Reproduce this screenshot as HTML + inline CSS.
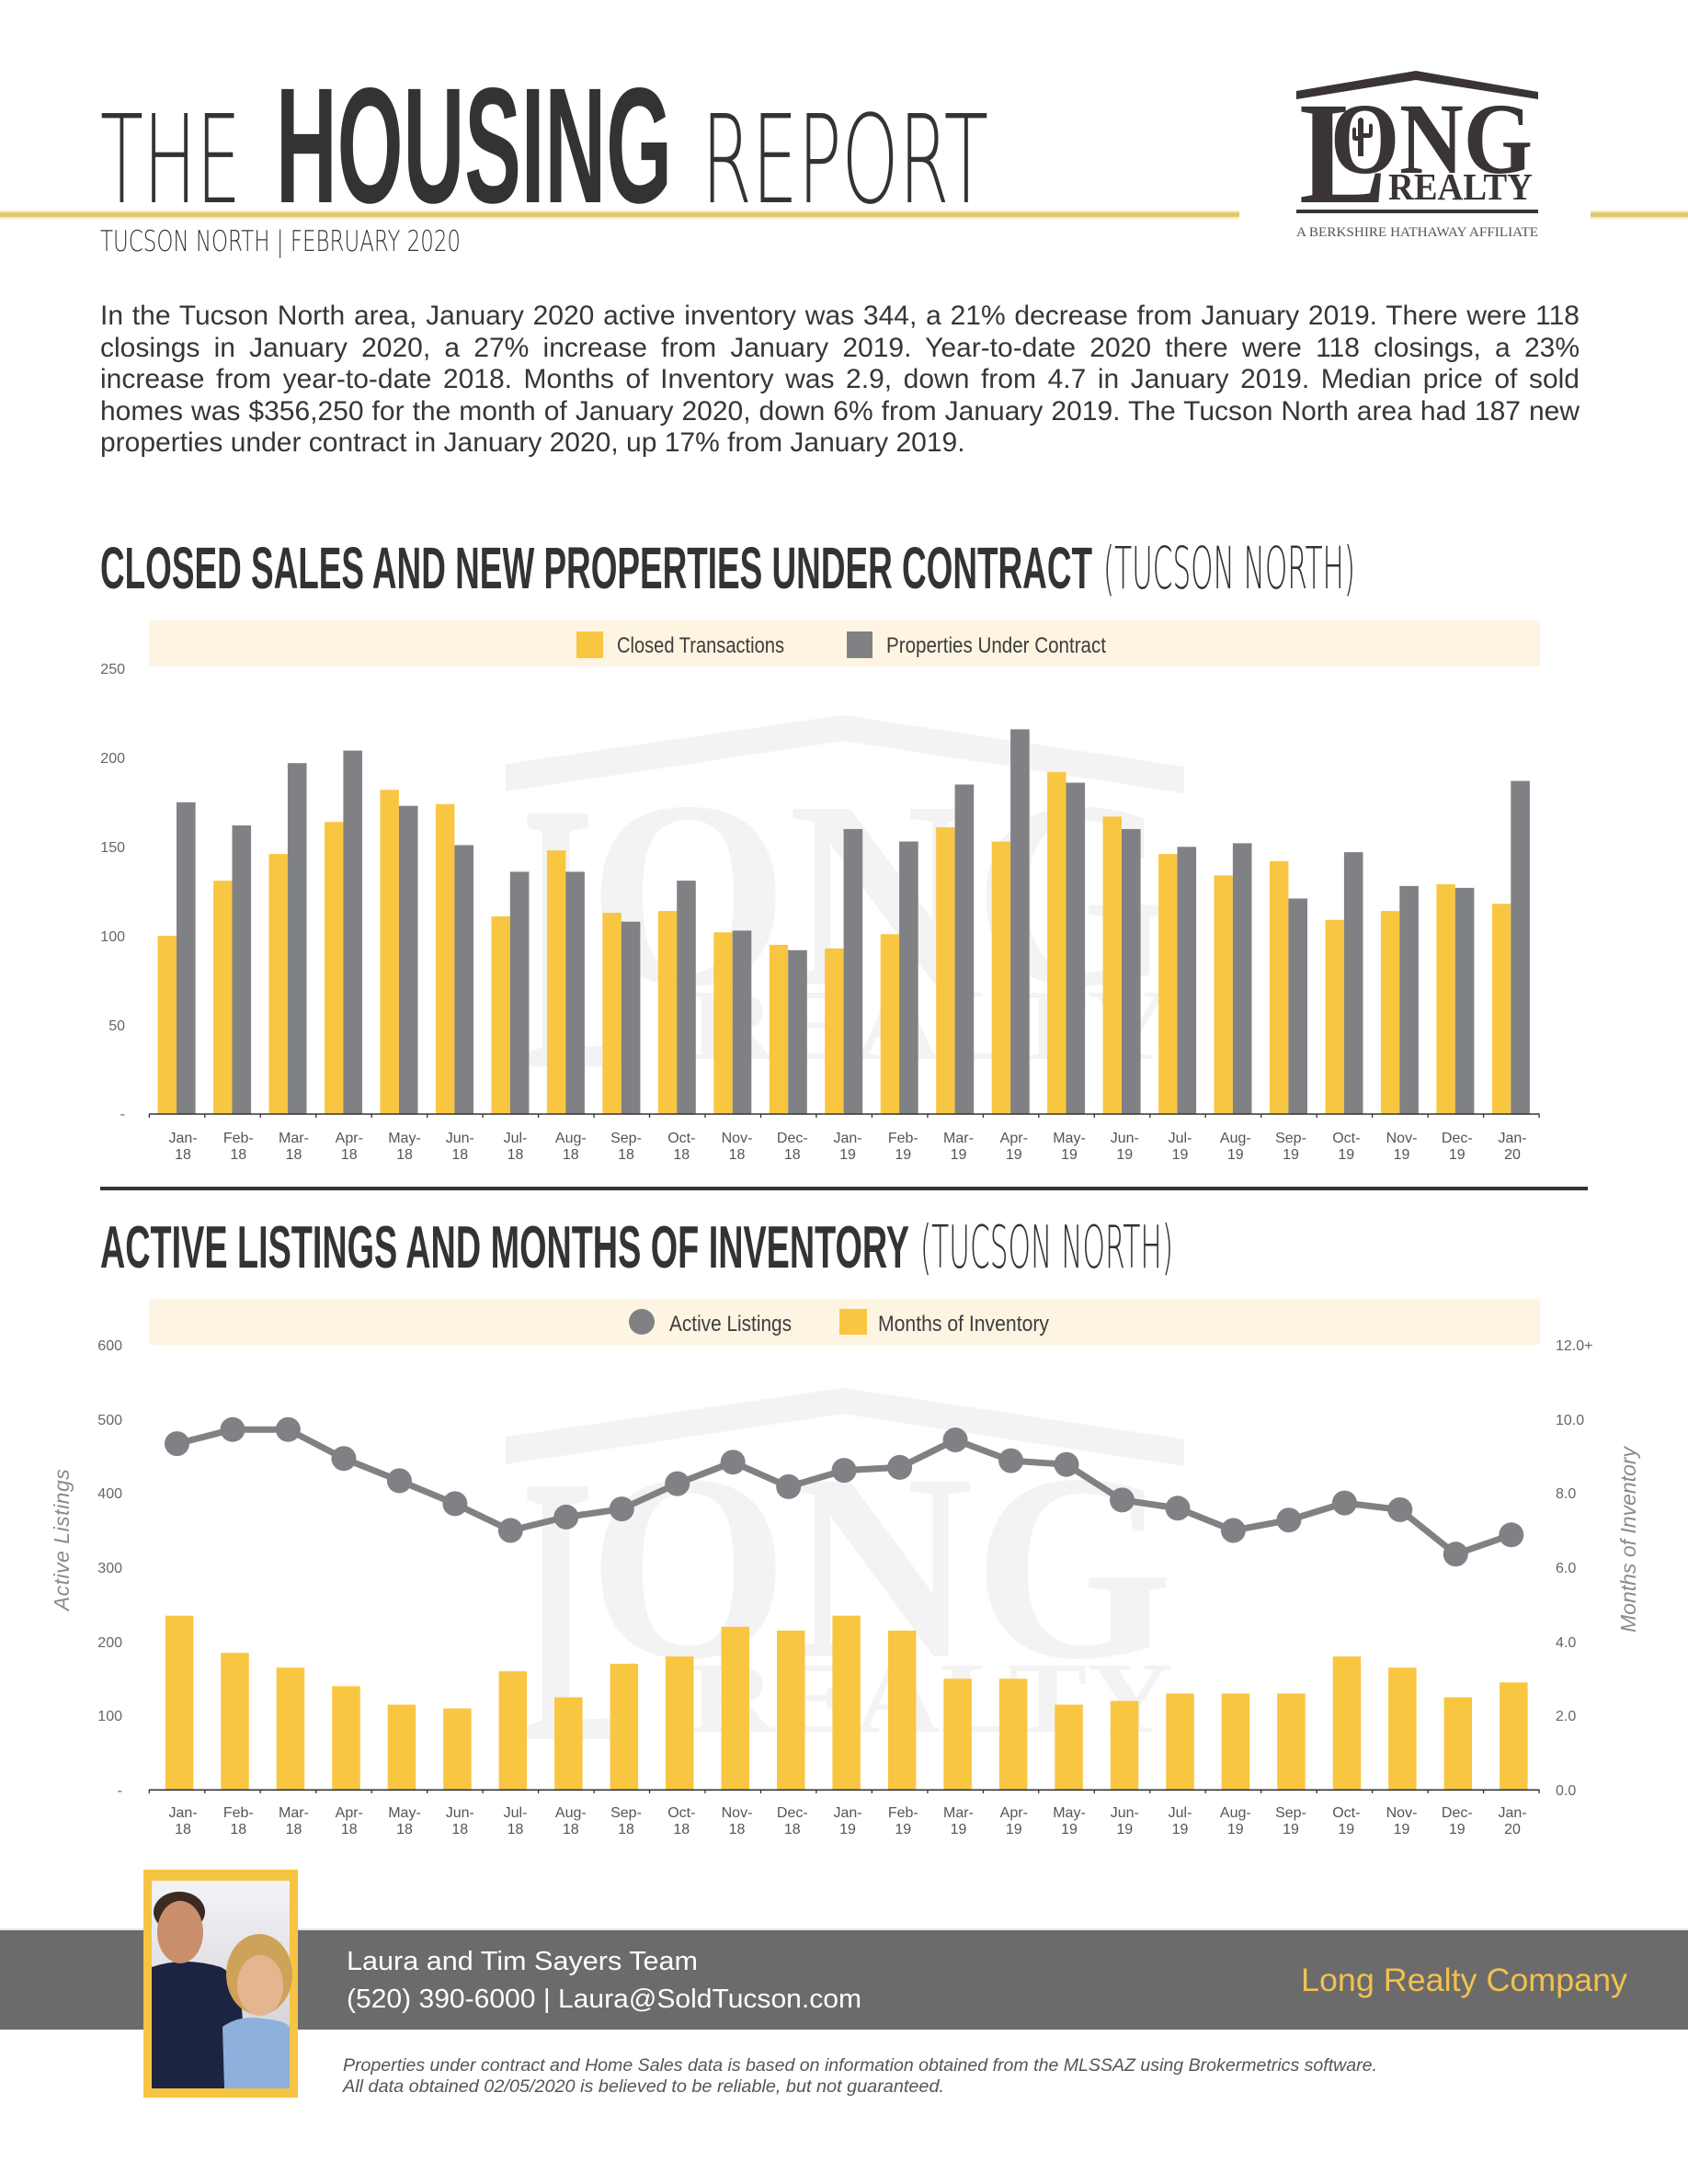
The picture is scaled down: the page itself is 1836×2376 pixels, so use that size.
<!DOCTYPE html>
<html>
<head>
<meta charset="utf-8">
<style>
html,body{margin:0;padding:0;background:#fff;}
body{width:1836px;height:2376px;position:relative;overflow:hidden;}
svg{position:absolute;left:0;top:0;}
.para{position:absolute;left:109px;top:327px;width:1609px;font-family:"Liberation Sans",Arial,sans-serif;font-size:30px;line-height:34.5px;color:#363636;}
.para div{text-align:justify;text-align-last:justify;height:34.5px;}
.para div.last{text-align:left;text-align-last:left;}
</style>
</head>
<body>
<svg width="1836" height="2376" viewBox="0 0 1836 2376" xmlns="http://www.w3.org/2000/svg">
<!-- HEADER -->
<g fill="#333">
<text x="109" y="220" font-family="'DejaVu Sans','Liberation Sans',sans-serif" font-weight="200" font-size="133" textLength="153" lengthAdjust="spacingAndGlyphs">THE</text>
<text x="300" y="220" font-family="'Liberation Sans',sans-serif" font-weight="bold" font-size="179" textLength="431" lengthAdjust="spacingAndGlyphs">HOUSING</text>
<text x="763" y="220" font-family="'DejaVu Sans','Liberation Sans',sans-serif" font-weight="200" font-size="133" textLength="312" lengthAdjust="spacingAndGlyphs">REPORT</text>
<text x="109" y="273" font-family="'DejaVu Sans','Liberation Sans',sans-serif" font-weight="200" font-size="31.5" textLength="392" lengthAdjust="spacingAndGlyphs">TUCSON NORTH | FEBRUARY 2020</text>
</g>
<rect x="0" y="229" width="1348" height="9" fill="#f4ecc8"/>
<rect x="0" y="231" width="1348" height="5" fill="#e2ca6c"/>
<rect x="1730" y="229" width="106" height="9" fill="#f4ecc8"/>
<rect x="1730" y="231" width="106" height="5" fill="#e2ca6c"/>

<!-- LOGO -->
<g fill="#3a3435">
<polygon points="1410,99 1540,77 1673,100 1673,108 1540,87 1410,108"/>
<text x="1413" y="220" font-family="'Liberation Serif',serif" font-weight="bold" font-size="159" textLength="95" lengthAdjust="spacingAndGlyphs">L</text>
<text x="1447" y="188" font-family="'Liberation Serif',serif" font-weight="bold" font-size="110" textLength="220" lengthAdjust="spacingAndGlyphs">ONG</text>
<text x="1510" y="217" font-family="'Liberation Serif',serif" font-weight="bold" font-size="41" textLength="157" lengthAdjust="spacingAndGlyphs">REALTY</text>
<rect x="1410" y="228" width="263" height="4"/>
<path d="M1477,170 L1477,130 Q1480,126 1483,130 L1483,170 Z M1471,150 L1471,140 Q1473,137 1475,140 L1475,148 L1477,148 L1477,153 L1474,153 Q1471,153 1471,150 Z M1489,145 L1489,136 Q1491,133 1493,136 L1493,146 Q1493,150 1489,150 L1483,150 L1483,145 Z"/>
</g>
<text x="1410" y="257" font-family="'Liberation Serif',serif" font-size="15" fill="#555" textLength="263" lengthAdjust="spacingAndGlyphs">A BERKSHIRE HATHAWAY AFFILIATE</text>

<!-- CHART 1 TITLE -->
<text x="109" y="640" font-family="'Liberation Sans',sans-serif" font-weight="bold" font-size="64" fill="#333" textLength="1079" lengthAdjust="spacingAndGlyphs">CLOSED SALES AND NEW PROPERTIES UNDER CONTRACT</text>
<text x="1200" y="640" font-family="'DejaVu Sans','Liberation Sans',sans-serif" font-weight="200" font-size="63" fill="#333" textLength="274" lengthAdjust="spacingAndGlyphs">(TUCSON NORTH)</text>

<!-- WATERMARKS -->
<g id="wm" fill="#f3f3f3">
<polygon points="550,831 917,778 1288,834 1288,863 917,806 550,861"/>
<text x="570" y="1160" font-family="'Liberation Serif',serif" font-weight="bold" font-size="420" textLength="130" lengthAdjust="spacingAndGlyphs">L</text>
<text x="640" y="1070" font-family="'Liberation Serif',serif" font-weight="bold" font-size="290" textLength="636" lengthAdjust="spacingAndGlyphs">ONG</text>
<text x="750" y="1152" font-family="'Liberation Serif',serif" font-weight="bold" font-size="110" textLength="526" lengthAdjust="spacingAndGlyphs">REALTY</text>
</g>
<g transform="translate(0,732)" fill="#f3f3f3">
<polygon points="550,831 917,778 1288,834 1288,863 917,806 550,861"/>
<text x="570" y="1160" font-family="'Liberation Serif',serif" font-weight="bold" font-size="420" textLength="130" lengthAdjust="spacingAndGlyphs">L</text>
<text x="640" y="1070" font-family="'Liberation Serif',serif" font-weight="bold" font-size="290" textLength="636" lengthAdjust="spacingAndGlyphs">ONG</text>
<text x="750" y="1152" font-family="'Liberation Serif',serif" font-weight="bold" font-size="110" textLength="526" lengthAdjust="spacingAndGlyphs">REALTY</text>
</g>

<!-- CHART 1 LEGEND -->
<rect x="162" y="675" width="1513" height="50" fill="#fdf5e2"/>
<rect x="627" y="687" width="29" height="29" fill="#f9c642"/>
<text x="671" y="710" font-family="'Liberation Sans',sans-serif" font-size="24" fill="#3d3d3d" textLength="182" lengthAdjust="spacingAndGlyphs">Closed Transactions</text>
<rect x="921" y="687" width="28" height="29" fill="#808184"/>
<text x="964" y="710" font-family="'Liberation Sans',sans-serif" font-size="24" fill="#3d3d3d" textLength="239" lengthAdjust="spacingAndGlyphs">Properties Under Contract</text>

<!-- CHART 1 Y LABELS -->
<g font-family="'Liberation Sans',sans-serif" font-size="16" fill="#666" text-anchor="end">
<text x="136" y="733">250</text>
<text x="136" y="830">200</text>
<text x="136" y="927">150</text>
<text x="136" y="1024">100</text>
<text x="136" y="1121">50</text>
<text x="136" y="1217">-</text>
</g>

<!-- CHART 1 BARS -->
<g fill="#f9c642">
<rect x="171.6" y="1018.2" width="20.4" height="193.8"/>
<rect x="232.1" y="958.1" width="20.4" height="253.9"/>
<rect x="292.5" y="929.1" width="20.4" height="282.9"/>
<rect x="353.0" y="894.2" width="20.4" height="317.8"/>
<rect x="413.5" y="859.3" width="20.4" height="352.7"/>
<rect x="474.0" y="874.8" width="20.4" height="337.2"/>
<rect x="534.4" y="996.9" width="20.4" height="215.1"/>
<rect x="594.9" y="925.2" width="20.4" height="286.8"/>
<rect x="655.4" y="993.0" width="20.4" height="219.0"/>
<rect x="715.8" y="991.1" width="20.4" height="220.9"/>
<rect x="776.3" y="1014.3" width="20.4" height="197.7"/>
<rect x="836.8" y="1027.9" width="20.4" height="184.1"/>
<rect x="897.2" y="1031.8" width="20.4" height="180.2"/>
<rect x="957.7" y="1016.3" width="20.4" height="195.7"/>
<rect x="1018.2" y="900.0" width="20.4" height="312.0"/>
<rect x="1078.7" y="915.5" width="20.4" height="296.5"/>
<rect x="1139.1" y="839.9" width="20.4" height="372.1"/>
<rect x="1199.6" y="888.4" width="20.4" height="323.6"/>
<rect x="1260.1" y="929.1" width="20.4" height="282.9"/>
<rect x="1320.5" y="952.3" width="20.4" height="259.7"/>
<rect x="1381.0" y="936.8" width="20.4" height="275.2"/>
<rect x="1441.5" y="1000.8" width="20.4" height="211.2"/>
<rect x="1501.9" y="991.1" width="20.4" height="220.9"/>
<rect x="1562.4" y="962.0" width="20.4" height="250.0"/>
<rect x="1622.9" y="983.3" width="20.4" height="228.7"/>
</g>
<g fill="#808184">
<rect x="192.0" y="872.8" width="20.6" height="339.2"/>
<rect x="252.5" y="898.0" width="20.6" height="314.0"/>
<rect x="312.9" y="830.2" width="20.6" height="381.8"/>
<rect x="373.4" y="816.6" width="20.6" height="395.4"/>
<rect x="433.9" y="876.7" width="20.6" height="335.3"/>
<rect x="494.4" y="919.4" width="20.6" height="292.6"/>
<rect x="554.8" y="948.4" width="20.6" height="263.6"/>
<rect x="615.3" y="948.4" width="20.6" height="263.6"/>
<rect x="675.8" y="1002.7" width="20.6" height="209.3"/>
<rect x="736.2" y="958.1" width="20.6" height="253.9"/>
<rect x="796.7" y="1012.4" width="20.6" height="199.6"/>
<rect x="857.2" y="1033.7" width="20.6" height="178.3"/>
<rect x="917.6" y="901.9" width="20.6" height="310.1"/>
<rect x="978.1" y="915.5" width="20.6" height="296.5"/>
<rect x="1038.6" y="853.5" width="20.6" height="358.5"/>
<rect x="1099.1" y="793.4" width="20.6" height="418.6"/>
<rect x="1159.5" y="851.5" width="20.6" height="360.5"/>
<rect x="1220.0" y="901.9" width="20.6" height="310.1"/>
<rect x="1280.5" y="921.3" width="20.6" height="290.7"/>
<rect x="1340.9" y="917.4" width="20.6" height="294.6"/>
<rect x="1401.4" y="977.5" width="20.6" height="234.5"/>
<rect x="1461.9" y="927.1" width="20.6" height="284.9"/>
<rect x="1522.3" y="963.9" width="20.6" height="248.1"/>
<rect x="1582.8" y="965.9" width="20.6" height="246.1"/>
<rect x="1643.3" y="849.6" width="20.6" height="362.4"/>
</g>

<!-- CHART 1 AXIS -->
<line x1="162" y1="1212" x2="1674.5" y2="1212" stroke="#333" stroke-width="1.6"/>
<path stroke="#333" stroke-width="1.3" fill="none" d="M162.3,1212v4M222.8,1212v4M283.2,1212v4M343.7,1212v4M404.2,1212v4M464.7,1212v4M525.1,1212v4M585.6,1212v4M646.1,1212v4M706.5,1212v4M767.0,1212v4M827.5,1212v4M887.9,1212v4M948.4,1212v4M1008.9,1212v4M1069.4,1212v4M1129.8,1212v4M1190.3,1212v4M1250.8,1212v4M1311.2,1212v4M1371.7,1212v4M1432.2,1212v4M1492.6,1212v4M1553.1,1212v4M1613.6,1212v4M1674.1,1212v4"/>
<g font-family="'Liberation Sans',sans-serif" font-size="16" fill="#555" text-anchor="middle">
<text x="199.0" y="1243">Jan-</text><text x="199.0" y="1261">18</text>
<text x="259.3" y="1243">Feb-</text><text x="259.3" y="1261">18</text>
<text x="319.5" y="1243">Mar-</text><text x="319.5" y="1261">18</text>
<text x="379.8" y="1243">Apr-</text><text x="379.8" y="1261">18</text>
<text x="440.0" y="1243">May-</text><text x="440.0" y="1261">18</text>
<text x="500.3" y="1243">Jun-</text><text x="500.3" y="1261">18</text>
<text x="560.5" y="1243">Jul-</text><text x="560.5" y="1261">18</text>
<text x="620.8" y="1243">Aug-</text><text x="620.8" y="1261">18</text>
<text x="681.0" y="1243">Sep-</text><text x="681.0" y="1261">18</text>
<text x="741.3" y="1243">Oct-</text><text x="741.3" y="1261">18</text>
<text x="801.5" y="1243">Nov-</text><text x="801.5" y="1261">18</text>
<text x="861.8" y="1243">Dec-</text><text x="861.8" y="1261">18</text>
<text x="922.0" y="1243">Jan-</text><text x="922.0" y="1261">19</text>
<text x="982.3" y="1243">Feb-</text><text x="982.3" y="1261">19</text>
<text x="1042.5" y="1243">Mar-</text><text x="1042.5" y="1261">19</text>
<text x="1102.8" y="1243">Apr-</text><text x="1102.8" y="1261">19</text>
<text x="1163.0" y="1243">May-</text><text x="1163.0" y="1261">19</text>
<text x="1223.3" y="1243">Jun-</text><text x="1223.3" y="1261">19</text>
<text x="1283.5" y="1243">Jul-</text><text x="1283.5" y="1261">19</text>
<text x="1343.8" y="1243">Aug-</text><text x="1343.8" y="1261">19</text>
<text x="1404.0" y="1243">Sep-</text><text x="1404.0" y="1261">19</text>
<text x="1464.3" y="1243">Oct-</text><text x="1464.3" y="1261">19</text>
<text x="1524.5" y="1243">Nov-</text><text x="1524.5" y="1261">19</text>
<text x="1584.8" y="1243">Dec-</text><text x="1584.8" y="1261">19</text>
<text x="1645.0" y="1243">Jan-</text><text x="1645.0" y="1261">20</text>
</g>

<!-- SEPARATOR -->
<rect x="109" y="1291" width="1618" height="4" fill="#333"/>

<!-- CHART 2 TITLE -->
<text x="109" y="1379" font-family="'Liberation Sans',sans-serif" font-weight="bold" font-size="65" fill="#333" textLength="880" lengthAdjust="spacingAndGlyphs">ACTIVE LISTINGS AND MONTHS OF INVENTORY</text>
<text x="1001" y="1379" font-family="'DejaVu Sans','Liberation Sans',sans-serif" font-weight="200" font-size="64" fill="#333" textLength="275" lengthAdjust="spacingAndGlyphs">(TUCSON NORTH)</text>

<!-- CHART 2 LEGEND -->
<rect x="162" y="1413" width="1513" height="50" fill="#fdf5e2"/>
<circle cx="698" cy="1438" r="14" fill="#808184"/>
<text x="728" y="1448" font-family="'Liberation Sans',sans-serif" font-size="24" fill="#3d3d3d" textLength="133" lengthAdjust="spacingAndGlyphs">Active Listings</text>
<rect x="913" y="1424" width="30" height="28" fill="#f9c642"/>
<text x="955" y="1448" font-family="'Liberation Sans',sans-serif" font-size="24" fill="#3d3d3d" textLength="186" lengthAdjust="spacingAndGlyphs">Months of Inventory</text>

<!-- CHART 2 AXIS LABELS -->
<g font-family="'Liberation Sans',sans-serif" font-size="16" fill="#666" text-anchor="end">
<text x="133" y="1469">600</text>
<text x="133" y="1550">500</text>
<text x="133" y="1630">400</text>
<text x="133" y="1711">300</text>
<text x="133" y="1792">200</text>
<text x="133" y="1872">100</text>
<text x="133" y="1953">-</text>
</g>
<g font-family="'Liberation Sans',sans-serif" font-size="16" fill="#666">
<text x="1692" y="1469">12.0+</text>
<text x="1692" y="1550">10.0</text>
<text x="1692" y="1630">8.0</text>
<text x="1692" y="1711">6.0</text>
<text x="1692" y="1792">4.0</text>
<text x="1692" y="1872">2.0</text>
<text x="1692" y="1953">0.0</text>
</g>
<text x="75" y="1675" transform="rotate(-90 75 1675)" text-anchor="middle" font-family="'Liberation Sans',sans-serif" font-style="italic" font-size="23" fill="#8a8a8a" letter-spacing="0.5">Active Listings</text>
<text x="1779" y="1675" transform="rotate(-90 1779 1675)" text-anchor="middle" font-family="'Liberation Sans',sans-serif" font-style="italic" font-size="23" fill="#8a8a8a">Months of Inventory</text>

<!-- CHART 2 BARS -->
<g fill="#f9c642">
<rect x="179.8" y="1757.7" width="30.5" height="189.6"/>
<rect x="240.3" y="1798.1" width="30.5" height="149.2"/>
<rect x="300.7" y="1814.2" width="30.5" height="133.1"/>
<rect x="361.2" y="1834.4" width="30.5" height="112.9"/>
<rect x="421.7" y="1854.5" width="30.5" height="92.8"/>
<rect x="482.2" y="1858.6" width="30.5" height="88.7"/>
<rect x="542.6" y="1818.2" width="30.5" height="129.1"/>
<rect x="603.1" y="1846.5" width="30.5" height="100.8"/>
<rect x="663.6" y="1810.2" width="30.5" height="137.1"/>
<rect x="724.0" y="1802.1" width="30.5" height="145.2"/>
<rect x="784.5" y="1769.8" width="30.5" height="177.5"/>
<rect x="845.0" y="1773.9" width="30.5" height="173.4"/>
<rect x="905.4" y="1757.7" width="30.5" height="189.6"/>
<rect x="965.9" y="1773.9" width="30.5" height="173.4"/>
<rect x="1026.4" y="1826.3" width="30.5" height="121.0"/>
<rect x="1086.9" y="1826.3" width="30.5" height="121.0"/>
<rect x="1147.3" y="1854.5" width="30.5" height="92.8"/>
<rect x="1207.8" y="1850.5" width="30.5" height="96.8"/>
<rect x="1268.3" y="1842.4" width="30.5" height="104.9"/>
<rect x="1328.7" y="1842.4" width="30.5" height="104.9"/>
<rect x="1389.2" y="1842.4" width="30.5" height="104.9"/>
<rect x="1449.7" y="1802.1" width="30.5" height="145.2"/>
<rect x="1510.1" y="1814.2" width="30.5" height="133.1"/>
<rect x="1570.6" y="1846.5" width="30.5" height="100.8"/>
<rect x="1631.1" y="1830.3" width="30.5" height="117.0"/>
</g>

<!-- CHART 2 LINE -->
<polyline fill="none" stroke="#808184" stroke-width="7" stroke-linejoin="round" points="192.5,1570.6 253.0,1555.2 313.4,1555.2 373.9,1586.7 434.4,1610.9 494.9,1635.9 555.3,1665.0 615.8,1650.4 676.3,1641.6 736.7,1614.1 797.2,1590.7 857.7,1617.4 918.1,1599.6 978.6,1596.4 1039.1,1566.5 1099.6,1589.1 1160.0,1593.2 1220.5,1631.9 1281.0,1640.8 1341.4,1665.0 1401.9,1653.7 1462.4,1635.1 1522.8,1642.4 1583.3,1690.8 1643.8,1669.8"/>
<g fill="#808184">
<circle cx="192.5" cy="1570.6" r="13.5"/><circle cx="253.0" cy="1555.2" r="13.5"/><circle cx="313.4" cy="1555.2" r="13.5"/><circle cx="373.9" cy="1586.7" r="13.5"/><circle cx="434.4" cy="1610.9" r="13.5"/><circle cx="494.9" cy="1635.9" r="13.5"/><circle cx="555.3" cy="1665.0" r="13.5"/><circle cx="615.8" cy="1650.4" r="13.5"/><circle cx="676.3" cy="1641.6" r="13.5"/><circle cx="736.7" cy="1614.1" r="13.5"/><circle cx="797.2" cy="1590.7" r="13.5"/><circle cx="857.7" cy="1617.4" r="13.5"/><circle cx="918.1" cy="1599.6" r="13.5"/><circle cx="978.6" cy="1596.4" r="13.5"/><circle cx="1039.1" cy="1566.5" r="13.5"/><circle cx="1099.6" cy="1589.1" r="13.5"/><circle cx="1160.0" cy="1593.2" r="13.5"/><circle cx="1220.5" cy="1631.9" r="13.5"/><circle cx="1281.0" cy="1640.8" r="13.5"/><circle cx="1341.4" cy="1665.0" r="13.5"/><circle cx="1401.9" cy="1653.7" r="13.5"/><circle cx="1462.4" cy="1635.1" r="13.5"/><circle cx="1522.8" cy="1642.4" r="13.5"/><circle cx="1583.3" cy="1690.8" r="13.5"/><circle cx="1643.8" cy="1669.8" r="13.5"/>
</g>

<!-- CHART 2 AXIS -->
<line x1="162" y1="1947.3" x2="1674.5" y2="1947.3" stroke="#333" stroke-width="1.6"/>
<path stroke="#333" stroke-width="1.3" fill="none" d="M162.3,1947v4M222.8,1947v4M283.2,1947v4M343.7,1947v4M404.2,1947v4M464.7,1947v4M525.1,1947v4M585.6,1947v4M646.1,1947v4M706.5,1947v4M767.0,1947v4M827.5,1947v4M887.9,1947v4M948.4,1947v4M1008.9,1947v4M1069.4,1947v4M1129.8,1947v4M1190.3,1947v4M1250.8,1947v4M1311.2,1947v4M1371.7,1947v4M1432.2,1947v4M1492.6,1947v4M1553.1,1947v4M1613.6,1947v4M1674.1,1947v4"/>
<g font-family="'Liberation Sans',sans-serif" font-size="16" fill="#555" text-anchor="middle">
<text x="199.0" y="1977">Jan-</text><text x="199.0" y="1995">18</text>
<text x="259.3" y="1977">Feb-</text><text x="259.3" y="1995">18</text>
<text x="319.5" y="1977">Mar-</text><text x="319.5" y="1995">18</text>
<text x="379.8" y="1977">Apr-</text><text x="379.8" y="1995">18</text>
<text x="440.0" y="1977">May-</text><text x="440.0" y="1995">18</text>
<text x="500.3" y="1977">Jun-</text><text x="500.3" y="1995">18</text>
<text x="560.5" y="1977">Jul-</text><text x="560.5" y="1995">18</text>
<text x="620.8" y="1977">Aug-</text><text x="620.8" y="1995">18</text>
<text x="681.0" y="1977">Sep-</text><text x="681.0" y="1995">18</text>
<text x="741.3" y="1977">Oct-</text><text x="741.3" y="1995">18</text>
<text x="801.5" y="1977">Nov-</text><text x="801.5" y="1995">18</text>
<text x="861.8" y="1977">Dec-</text><text x="861.8" y="1995">18</text>
<text x="922.0" y="1977">Jan-</text><text x="922.0" y="1995">19</text>
<text x="982.3" y="1977">Feb-</text><text x="982.3" y="1995">19</text>
<text x="1042.5" y="1977">Mar-</text><text x="1042.5" y="1995">19</text>
<text x="1102.8" y="1977">Apr-</text><text x="1102.8" y="1995">19</text>
<text x="1163.0" y="1977">May-</text><text x="1163.0" y="1995">19</text>
<text x="1223.3" y="1977">Jun-</text><text x="1223.3" y="1995">19</text>
<text x="1283.5" y="1977">Jul-</text><text x="1283.5" y="1995">19</text>
<text x="1343.8" y="1977">Aug-</text><text x="1343.8" y="1995">19</text>
<text x="1404.0" y="1977">Sep-</text><text x="1404.0" y="1995">19</text>
<text x="1464.3" y="1977">Oct-</text><text x="1464.3" y="1995">19</text>
<text x="1524.5" y="1977">Nov-</text><text x="1524.5" y="1995">19</text>
<text x="1584.8" y="1977">Dec-</text><text x="1584.8" y="1995">19</text>
<text x="1645.0" y="1977">Jan-</text><text x="1645.0" y="1995">20</text>
</g>

<!-- FOOTER -->
<rect x="0" y="2098" width="1836" height="3" fill="#e6e6e6"/>
<rect x="0" y="2100" width="1836" height="108" fill="#6b6b6b"/>
<rect x="156" y="2034" width="168" height="248" fill="#f6c443"/>
<defs>
<linearGradient id="bg" x1="0" y1="0" x2="0" y2="1">
<stop offset="0" stop-color="#f4f3f6"/>
<stop offset="1" stop-color="#c9c9cf"/>
</linearGradient>
</defs>
<rect x="165" y="2046" width="150" height="226" fill="url(#bg)"/>
<path d="M165,2140 Q200,2128 240,2140 Q262,2150 264,2200 L266,2272 L165,2272 Z" fill="#1c2441"/>
<ellipse cx="195" cy="2080" rx="28" ry="22" fill="#3b2b22"/>
<ellipse cx="196" cy="2102" rx="25" ry="34" fill="#c98f6c"/>
<ellipse cx="282" cy="2148" rx="36" ry="44" fill="#cfa25a"/>
<ellipse cx="283" cy="2160" rx="25" ry="33" fill="#e5b590"/>
<path d="M242,2205 Q260,2192 285,2196 Q310,2198 315,2205 L315,2272 L244,2272 Z" fill="#8db0dc"/>

<g font-family="'Liberation Sans',sans-serif" fill="#fff">
<text x="377" y="2143" font-size="29" textLength="382" lengthAdjust="spacingAndGlyphs">Laura and Tim Sayers Team</text>
<text x="377" y="2184" font-size="29" textLength="560" lengthAdjust="spacingAndGlyphs">(520) 390-6000 | Laura@SoldTucson.com</text>
</g>
<text x="1415" y="2166" font-family="'Liberation Sans',sans-serif" font-size="35" fill="#f2c14e" textLength="355" lengthAdjust="spacingAndGlyphs">Long Realty Company</text>
<g font-family="'Liberation Sans',sans-serif" font-style="italic" font-size="19" fill="#555">
<text x="373" y="2253" textLength="1125" lengthAdjust="spacingAndGlyphs">Properties under contract and Home Sales data is based on information obtained from the MLSSAZ using Brokermetrics software.</text>
<text x="373" y="2276" textLength="654" lengthAdjust="spacingAndGlyphs">All data obtained 02/05/2020 is believed to be reliable, but not guaranteed.</text>
</g>
</svg>

<div class="para">
<div>In the Tucson North area, January 2020 active inventory was 344, a 21% decrease from January 2019. There were 118</div>
<div>closings in January 2020, a 27% increase from January 2019. Year-to-date 2020 there were 118 closings, a 23%</div>
<div>increase from year-to-date 2018. Months of Inventory was 2.9, down from 4.7 in January 2019. Median price of sold</div>
<div>homes was $356,250 for the month of January 2020, down 6% from January 2019. The Tucson North area had 187 new</div>
<div class="last">properties under contract in January 2020, up 17% from January 2019.</div>
</div>
</body>
</html>
